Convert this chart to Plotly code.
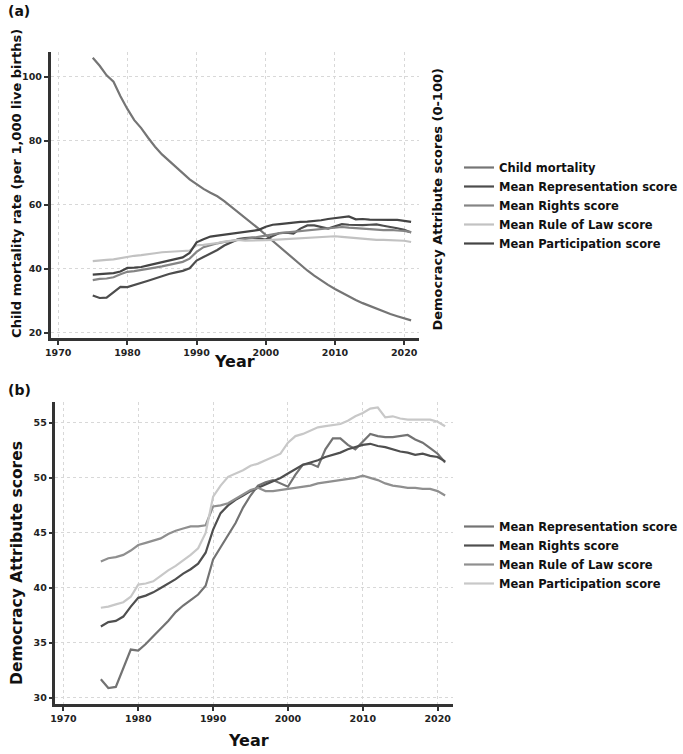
import plotly.graph_objects as go

years = list(range(1975, 2022))

child_mortality = [106.0, 103.5, 100.5, 98.5, 94.0, 90.0, 86.5, 84.0, 81.0, 78.2,
                   75.8, 73.8, 71.8, 70.0, 68.0, 66.5, 65.0, 63.8, 62.7, 61.2,
                   59.5, 57.8, 56.0, 54.2, 52.5, 50.6, 48.7, 46.8, 44.9, 43.0,
                   41.2, 39.5, 37.9, 36.4, 35.0, 33.7, 32.5, 31.4, 30.3, 29.3,
                   28.4, 27.5, 26.7, 25.9, 25.2, 24.5, 23.9]

representation = [31.7, 30.9, 31.0, 32.7, 34.4, 34.3, 34.9, 35.6, 36.3, 37.0,
                  37.8, 38.4, 38.9, 39.4, 40.2, 42.6, 43.7, 44.8, 45.9, 47.3,
                  48.4, 49.3, 49.6, 49.8, 49.5, 49.2, 50.3, 51.2, 51.3, 51.0,
                  52.6, 53.6, 53.6, 53.0, 52.6, 53.3, 54.0, 53.8, 53.7, 53.7,
                  53.8, 53.9, 53.5, 53.2, 52.7, 52.2, 51.4]

rights = [36.5, 36.9, 37.0, 37.4, 38.3, 39.1, 39.3, 39.6, 40.0, 40.4,
          40.8, 41.3, 41.7, 42.2, 43.2, 45.3, 46.8, 47.5, 48.0, 48.4,
          48.8, 49.1, 49.4, 49.7, 50.0, 50.4, 50.8, 51.2, 51.4, 51.6,
          51.9, 52.1, 52.3, 52.6, 52.8, 53.0, 53.1, 52.9, 52.8, 52.6,
          52.4, 52.3, 52.1, 52.2, 52.0, 51.9, 51.5]

rule_of_law = [42.4, 42.7, 42.8, 43.0, 43.4, 43.9, 44.1, 44.3, 44.5, 44.9,
               45.2, 45.4, 45.6, 45.6, 45.7, 47.4, 47.5, 47.7, 48.1, 48.5,
               48.9, 49.1, 48.8, 48.8, 48.9, 49.0, 49.1, 49.2, 49.3, 49.5,
               49.6, 49.7, 49.8, 49.9, 50.0, 50.2, 50.0, 49.8, 49.5, 49.3,
               49.2, 49.1, 49.1, 49.0, 49.0, 48.8, 48.4]

participation = [38.2, 38.3, 38.5, 38.7, 39.2, 40.3, 40.4, 40.6, 41.1, 41.6,
                 42.0, 42.5, 43.0, 43.6, 45.0, 48.3, 49.3, 50.1, 50.4, 50.7,
                 51.1, 51.3, 51.6, 51.9, 52.2, 53.2, 53.8, 54.0, 54.3, 54.6,
                 54.7, 54.8, 54.9, 55.2, 55.6, 55.9, 56.3, 56.4, 55.5, 55.6,
                 55.4, 55.3, 55.3, 55.3, 55.3, 55.1, 54.7]

x_ticks = [1970, 1980, 1990, 2000, 2010, 2020]
ya_ticks = [20, 40, 60, 80, 100]
yb_ticks = [30, 35, 40, 45, 50, 55]

W, H = 683, 754
def px(x):
    return x / W
def py(y):
    return 1 - y / H

fig = go.Figure()

series_a = [
    ("Child mortality", child_mortality, "#757575"),
    ("Mean Representation score", representation, "#4d4d4d"),
    ("Mean Rights score", rights, "#858585"),
    ("Mean Rule of Law score", rule_of_law, "#c2c2c2"),
    ("Mean Participation score", participation, "#444444"),
]
for name, vals, col in series_a:
    fig.add_trace(go.Scatter(x=years, y=vals, mode="lines", name=name,
                             line=dict(color=col, width=2.2),
                             xaxis="x", yaxis="y", legend="legend"))

series_b = [
    ("Mean Representation score", representation, "#737373"),
    ("Mean Rights score", rights, "#4f4f4f"),
    ("Mean Rule of Law score", rule_of_law, "#8f8f8f"),
    ("Mean Participation score", participation, "#c8c8c8"),
]
for name, vals, col in series_b:
    fig.add_trace(go.Scatter(x=years, y=vals, mode="lines", name=name,
                             line=dict(color=col, width=2.2),
                             xaxis="x2", yaxis="y2", legend="legend2"))

BOLD = "DejaVu Sans"
tickfont = dict(family=BOLD, size=9.5, color="#222", weight="bold")
common_x = dict(showline=True, linecolor="#333", linewidth=2.5, ticks="outside",
                ticklen=4, tickwidth=1.5, tickcolor="#333", tickvals=x_ticks,
                showgrid=True, gridcolor="#d8d8d8", griddash="dot", gridwidth=1,
                zeroline=False, tickfont=tickfont, mirror=False)
common_y = dict(showline=True, linecolor="#333", linewidth=2.5, ticks="outside",
                ticklen=4, tickwidth=1.5, tickcolor="#333",
                showgrid=True, gridcolor="#d8d8d8", griddash="dot", gridwidth=1,
                zeroline=False, tickfont=tickfont)

legfont = dict(family=BOLD, size=11.5, color="#111", weight="bold")
fig.update_layout(
    width=W, height=H, margin=dict(l=0, r=0, t=0, b=0),
    paper_bgcolor="white", plot_bgcolor="white",
    font=dict(family=BOLD, color="#111"),
    xaxis=dict(domain=[px(45), px(417)], range=[1968.9, 2022.1], anchor="y", **common_x),
    yaxis=dict(domain=[py(338), py(52)], range=[18.4, 107.8], anchor="x",
               tickvals=ya_ticks, **common_y),
    xaxis2=dict(domain=[px(50), px(452)], range=[1968.94, 2022.1], anchor="y2", **common_x),
    yaxis2=dict(domain=[py(704), py(402)], range=[29.45, 56.9], anchor="x2",
                tickvals=yb_ticks, **common_y),
    legend=dict(x=px(458), y=py(153), xanchor="left", yanchor="top",
                font=legfont, bgcolor="rgba(0,0,0,0)", tracegroupgap=0, itemwidth=30),
    legend2=dict(x=px(458), y=py(512), xanchor="left", yanchor="top",
                 font=legfont, bgcolor="rgba(0,0,0,0)", tracegroupgap=0, itemwidth=30),
    showlegend=True,
)

title_font = dict(family=BOLD, size=13, color="#111", weight="bold")
annotations = [
    dict(text="(a)", x=px(0), y=py(1), xanchor="left", yanchor="top",
         font=dict(family=BOLD, size=14, color="#111", weight="bold")),
    dict(text="(b)", x=px(0), y=py(380), xanchor="left", yanchor="top",
         font=dict(family=BOLD, size=14, color="#111", weight="bold")),
    dict(text="Year", x=px(231), y=py(362), xanchor="center", yanchor="middle",
         font=dict(family=BOLD, size=16, color="#111", weight="bold")),
    dict(text="Year", x=px(245), y=py(740), xanchor="center", yanchor="middle",
         font=dict(family=BOLD, size=16, color="#111", weight="bold")),
    dict(text="Child mortality rate (per 1,000 live births)", x=px(10), y=py(183),
         xanchor="center", yanchor="middle", textangle=-90, font=title_font),
    dict(text="Democracy Attribute scores (0-100)", x=px(435), y=py(200),
         xanchor="center", yanchor="middle", textangle=-90, font=title_font),
    dict(text="Democracy Attribute scores", x=px(11), y=py(563),
         xanchor="center", yanchor="middle", textangle=-90,
         font=dict(family=BOLD, size=15.5, color="#111", weight="bold")),
]
for a in annotations:
    a.update(xref="paper", yref="paper", showarrow=False)
fig.update_layout(annotations=annotations)

fig.write_html("out.html")
